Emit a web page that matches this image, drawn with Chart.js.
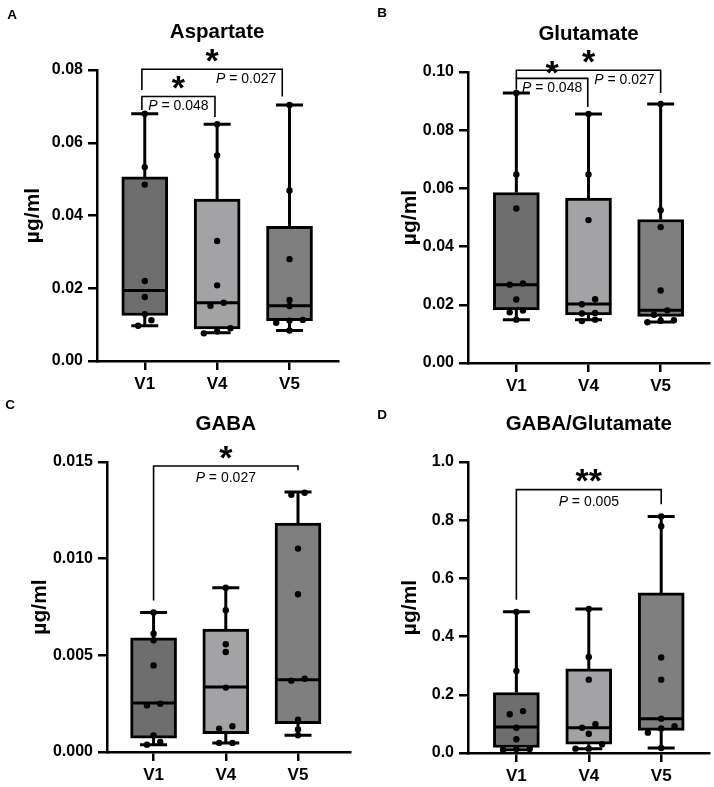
<!DOCTYPE html>
<html>
<head>
<meta charset="utf-8">
<title>Aspartate, Glutamate, GABA by visit</title>
<script src="https://cdn.jsdelivr.net/npm/chart.js@4.4.1/dist/chart.umd.min.js"></script>
<style>
  body { margin: 0; background: #fff; }
  #wrap { position: relative; width: 714px; height: 787px; }
  canvas { position: absolute; }
</style>
</head>
<body>
<div id="wrap">
  <canvas id="panelA" width="357" height="393" style="left:0;top:0"></canvas>
  <canvas id="panelB" width="357" height="393" style="left:357px;top:0"></canvas>
  <canvas id="panelC" width="357" height="394" style="left:0;top:393px"></canvas>
  <canvas id="panelD" width="357" height="394" style="left:357px;top:393px"></canvas>
</div>
<script>
const FONT = "'Liberation Sans', Arial, Helvetica, sans-serif";
Chart.defaults.font.family = FONT;
Chart.defaults.color = '#000';

const groups = ['V1', 'V4', 'V5'];
const boxColors = ['#6e6e6e', '#a3a3a5', '#7f7f7f'];

// individual subjects
const aspartateV1 = [0.0680, 0.0533, 0.0485, 0.0220, 0.0176, 0.0129, 0.0112, 0.0097];
const aspartateV4 = [0.0651, 0.0565, 0.0330, 0.0208, 0.0160, 0.0152, 0.0090, 0.0081, 0.0076];
const aspartateV5 = [0.0704, 0.0469, 0.0280, 0.0168, 0.0151, 0.0113, 0.0111, 0.0105, 0.0084];
// [min, q1, median, q3, max]
const aspartateBox = [
  [0.0097, 0.0125, 0.0194, 0.0506, 0.0680],
  [0.0078, 0.0088, 0.0160, 0.0445, 0.0651],
  [0.0084, 0.0111, 0.0152, 0.0370, 0.0704]
];
const aspartateTicks = [0, 0.02, 0.04, 0.06, 0.08];

const glutamateV1 = [0.0928, 0.0648, 0.0531, 0.0273, 0.0269, 0.0218, 0.0180, 0.0174, 0.0149];
const glutamateV4 = [0.0856, 0.0648, 0.0491, 0.0219, 0.0202, 0.0172, 0.0170, 0.0149, 0.0144];
const glutamateV5 = [0.0890, 0.0525, 0.0467, 0.0249, 0.0181, 0.0166, 0.0147, 0.0145, 0.0140];
const glutamateBox = [
  [0.0149, 0.0182, 0.0269, 0.0586, 0.0928],
  [0.0149, 0.0165, 0.0203, 0.0567, 0.0856],
  [0.0141, 0.0160, 0.0181, 0.0493, 0.0890]
];
const glutamateTicks = [0, 0.02, 0.04, 0.06, 0.08, 0.10];

const gabaV1 = [0.00722, 0.00612, 0.00578, 0.00448, 0.00250, 0.00241, 0.00086, 0.00052, 0.00038];
const gabaV4 = [0.00850, 0.00733, 0.00557, 0.00517, 0.00333, 0.00133, 0.00121, 0.00047, 0.00047];
const gabaV5 = [0.01341, 0.01330, 0.01052, 0.00816, 0.00379, 0.00369, 0.00167, 0.00116, 0.00086];
const gabaBox = [
  [0.00038, 0.00072, 0.00253, 0.00590, 0.00722],
  [0.00047, 0.00095, 0.00336, 0.00636, 0.00850],
  [0.00086, 0.00147, 0.00374, 0.01184, 0.01345]
];
const gabaTicks = [0, 0.005, 0.010, 0.015];

const ratioV1 = [0.485, 0.282, 0.144, 0.133, 0.087, 0.047, 0.014, 0.011, 0.014];
const ratioV4 = [0.495, 0.330, 0.252, 0.099, 0.087, 0.066, 0.030, 0.015, 0.015];
const ratioV5 = [0.813, 0.779, 0.328, 0.252, 0.118, 0.092, 0.084, 0.070, 0.017];
const ratioBox = [
  [0.011, 0.019, 0.089, 0.208, 0.485],
  [0.015, 0.030, 0.087, 0.289, 0.495],
  [0.017, 0.078, 0.118, 0.550, 0.813]
];
const ratioTicks = [0, 0.2, 0.4, 0.6, 0.8, 1.0];

// significance brackets: x in group index, y / leg ends in data units
const aspartateBrackets = [
  { from: -0.04, to: 0.97, y: 0.0727, legs: [0.0690, 0.0671], label: 'P = 0.048', stars: '*', align: 'center' },
  { from: -0.04, to: 1.90, y: 0.0802, legs: [0.0745, 0.0727], label: 'P = 0.027', stars: '*', align: 'right' }
];
const glutamateBrackets = [
  { from: 0, to: 0.99, y: 0.0978, legs: [0.0939, 0.0880], label: 'P = 0.048', stars: '*', align: 'center', starGap: 11 },
  { from: 0, to: 2, y: 0.1006, legs: [0.0978, 0.0928], label: 'P = 0.027', stars: '*', align: 'right' }
];
const gabaBrackets = [
  { from: 0, to: 2, y: 0.01479, legs: [0.00784, 0.01457], label: 'P = 0.027', stars: '*', align: 'center' }
];
const ratioBrackets = [
  { from: 0, to: 2, y: 0.905, legs: [0.527, 0.855], label: 'P = 0.005', stars: '**', align: 'center' }
];

const panels = [
  { canvas: 'panelA', letter: 'A', letterAt: [12, 15], title: 'Aspartate',
    values: [aspartateV1, aspartateV4, aspartateV5], box: aspartateBox, yMax: 0.08, yTicks: aspartateTicks, dec: 2,
    brackets: aspartateBrackets, xRange: [-0.66, 2.67], yWidth: 97, xHeight: 32, pad: { top: 70, right: 19 },
    titlePad: 21, labelGap: 9.5 },
  { canvas: 'panelB', letter: 'B', letterAt: [25, 13], title: 'Glutamate',
    values: [glutamateV1, glutamateV4, glutamateV5], box: glutamateBox, yMax: 0.10, yTicks: glutamateTicks, dec: 2,
    brackets: glutamateBrackets, xRange: [-0.67, 2.67], yWidth: 111, xHeight: 30, pad: { top: 72, right: 5 },
    titlePad: 41, labelGap: 9.5 },
  { canvas: 'panelC', letter: 'C', letterAt: [10, 12], title: 'GABA',
    values: [gabaV1, gabaV4, gabaV5], box: gabaBox, yMax: 0.015, yTicks: gabaTicks, dec: 3,
    brackets: gabaBrackets, xRange: [-0.645, 2.72], yWidth: 107, xHeight: 35, pad: { top: 69, right: 7 },
    titlePad: 27.5, labelGap: 12 },
  { canvas: 'panelD', letter: 'D', letterAt: [25, 22], title: 'GABA/Glutamate',
    values: [ratioV1, ratioV4, ratioV5], box: ratioBox, yMax: 1.0, yTicks: ratioTicks, dec: 1,
    brackets: ratioBrackets, xRange: [-0.668, 2.66], yWidth: 111, xHeight: 34, pad: { top: 69, right: 5 },
    titlePad: 41, labelGap: 12 }
];

// spread points that would sit on top of each other, like the scatter in Prism
function jitter(vals, yMax) {
  const order = vals.map((v, i) => i).sort((a, b) => vals[a] - vals[b]);
  const off = new Array(vals.length).fill(0);
  let cluster = [order[0]];
  const flush = () => {
    const n = cluster.length;
    cluster.forEach((k, j) => { off[k] = (j - (n - 1) / 2) * 0.184; });
  };
  for (let j = 1; j < order.length; j++) {
    if (vals[order[j]] - vals[order[j - 1]] < 0.019 * yMax) cluster.push(order[j]);
    else { flush(); cluster = [order[j]]; }
  }
  flush();
  return off;
}

function drawPLabel(ctx, text, x, y, align) {
  const rest = text.slice(1);
  ctx.font = 'italic 14px ' + FONT;
  const wP = ctx.measureText('P').width;
  ctx.font = '14px ' + FONT;
  const wR = ctx.measureText(rest).width;
  let sx = align === 'right' ? x - wP - wR : x - (wP + wR) / 2;
  ctx.textAlign = 'left';
  ctx.textBaseline = 'middle';
  ctx.font = 'italic 14px ' + FONT;
  ctx.fillText('P', sx, y);
  ctx.font = '14px ' + FONT;
  ctx.fillText(rest, sx + wP, y);
}

function drawStars(ctx, stars, x, cy) {
  ctx.font = 'bold 34px ' + FONT;
  ctx.textAlign = 'center';
  ctx.textBaseline = 'alphabetic';
  const m = ctx.measureText(stars);
  ctx.fillText(stars, x, cy + (m.actualBoundingBoxAscent - m.actualBoundingBoxDescent) / 2);
}

function decor(p) {
  return {
    id: 'decor' + p.letter,
    afterDatasetDraw(chart, args) {
      if (args.index !== 0) return;
      const { ctx, scales: { x, y } } = chart;
      ctx.save();
      ctx.strokeStyle = '#000';
      ctx.lineWidth = 3;
      p.box.forEach((b, i) => {
        const cx = x.getPixelForValue(i);
        const [mn, q1, med, q3, mx] = b.map(v => y.getPixelForValue(v));
        ctx.beginPath();
        ctx.moveTo(cx, q3); ctx.lineTo(cx, mx);
        ctx.moveTo(cx, q1); ctx.lineTo(cx, mn);
        ctx.moveTo(cx - 13.5, mx); ctx.lineTo(cx + 13.5, mx);
        ctx.moveTo(cx - 13.5, mn); ctx.lineTo(cx + 13.5, mn);
        ctx.moveTo(cx - 22, med); ctx.lineTo(cx + 22, med);
        ctx.stroke();
      });
      ctx.restore();
    },
    afterDraw(chart) {
      const { ctx, chartArea, scales: { x, y } } = chart;
      ctx.save();
      ctx.fillStyle = '#000';
      ctx.font = 'bold 20.5px ' + FONT;
      ctx.textAlign = 'center';
      ctx.textBaseline = 'middle';
      ctx.fillText(p.title, x.getPixelForValue(1), chartArea.top - 38);
      ctx.font = 'bold 13.5px ' + FONT;
      ctx.fillText(p.letter, p.letterAt[0], p.letterAt[1]);

      ctx.strokeStyle = '#000';
      ctx.lineWidth = 1.6;
      p.brackets.forEach(br => {
        const x1 = x.getPixelForValue(br.from);
        const x2 = x.getPixelForValue(br.to);
        const yy = y.getPixelForValue(br.y);
        ctx.beginPath();
        ctx.moveTo(x1, y.getPixelForValue(br.legs[0]));
        ctx.lineTo(x1, yy);
        ctx.lineTo(x2, yy);
        ctx.lineTo(x2, y.getPixelForValue(br.legs[1]));
        ctx.stroke();
        const lx = br.align === 'right' ? x2 - 6 : (x1 + x2) / 2;
        drawPLabel(ctx, br.label, lx, yy + p.labelGap, br.align);
        drawStars(ctx, br.stars, (x1 + x2) / 2, yy - (br.starGap || 14));
      });
      ctx.restore();
    }
  };
}

function buildChart(p) {
  const points = [];
  p.values.forEach((vals, i) => {
    const off = jitter(vals, p.yMax);
    vals.forEach((v, k) => points.push({ x: i + off[k], y: v }));
  });
  const axisGrid = { drawOnChartArea: false, offset: false, tickLength: 9, color: '#000', lineWidth: 2.5 };
  const axisBorder = { color: '#000', width: 2.5 };

  new Chart(document.getElementById(p.canvas), {
    type: 'bar',
    data: {
      datasets: [
        {
          type: 'bar',
          data: p.box.map((b, i) => ({ x: i, y: [b[1], b[3]] })),
          backgroundColor: boxColors,
          borderColor: '#000',
          borderWidth: 3,
          borderSkipped: false,
          barThickness: 46,
          order: 2
        },
        {
          type: 'scatter',
          data: points,
          pointRadius: 3.2,
          pointBackgroundColor: '#000',
          pointBorderWidth: 0,
          order: 1
        }
      ]
    },
    options: {
      responsive: false,
      animation: false,
      events: [],
      layout: { padding: { top: p.pad.top, right: p.pad.right, left: 0, bottom: 0 } },
      plugins: { legend: { display: false }, tooltip: { enabled: false } },
      scales: {
        x: {
          type: 'linear',
          min: p.xRange[0],
          max: p.xRange[1],
          offset: false,
          afterBuildTicks: s => { s.ticks = groups.map((g, i) => ({ value: i })); },
          afterFit: s => { s.height = p.xHeight; },
          ticks: {
            callback: v => groups[Math.round(v)],
            font: { size: 17, weight: 'bold' },
            padding: 4,
            maxRotation: 0,
            autoSkip: false
          },
          grid: axisGrid,
          border: axisBorder
        },
        y: {
          min: 0,
          max: p.yMax,
          afterBuildTicks: s => { s.ticks = p.yTicks.map(v => ({ value: v })); },
          afterFit: s => { s.width = p.yWidth; },
          ticks: {
            callback: v => v.toFixed(p.dec),
            font: { size: 16, weight: 'bold' },
            padding: 5
          },
          grid: axisGrid,
          border: axisBorder,
          title: {
            display: true,
            text: 'µg/ml',
            font: { size: 21, weight: 'bold' },
            padding: { top: p.titlePad, bottom: 0 }
          }
        }
      }
    },
    plugins: [decor(p)]
  });
}

panels.forEach(buildChart);
</script>
</body>
</html>
